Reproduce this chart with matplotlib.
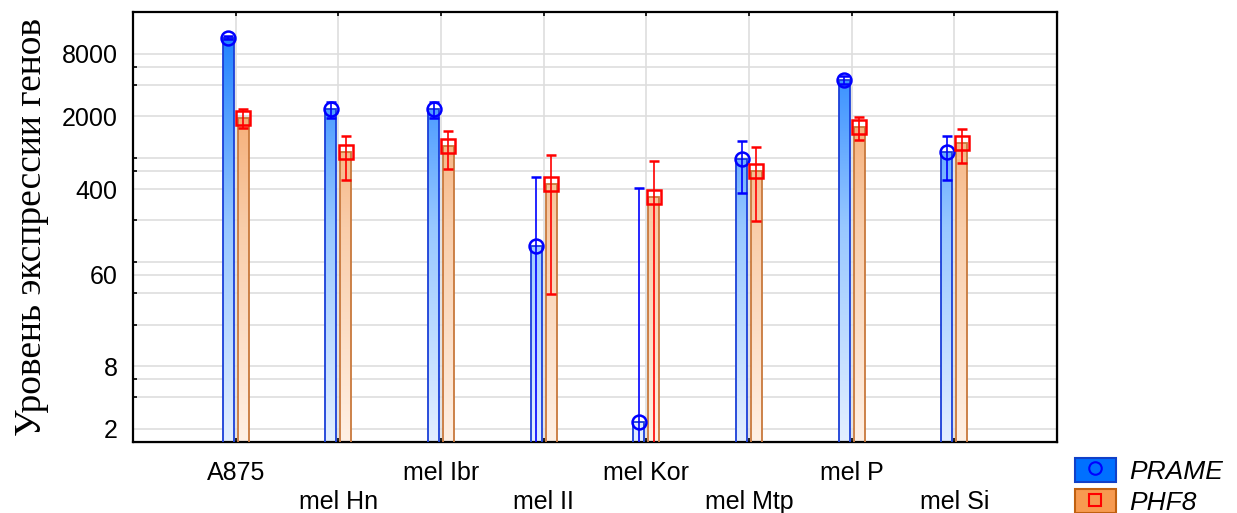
import numpy as np
import matplotlib
matplotlib.use("Agg")
import matplotlib.pyplot as plt
from matplotlib.colors import LinearSegmentedColormap
from matplotlib.patches import Patch
from matplotlib.lines import Line2D
from matplotlib.ticker import FixedLocator, FixedFormatter, NullFormatter

# --- données ---
lignees = ["A875", "mel Hn", "mel Ibr", "mel II", "mel Kor", "mel Mtp", "mel P", "mel Si"]
prame = [11400, 2330, 2330, 114, 2.3, 771, 4510, 900]
prame_err = [400, 400, 400, 407, 407, 400, 400, 405]
phf8 = [1950, 900, 1035, 446, 337, 604, 1565, 1120]
phf8_err = [390, 409, 408, 407, 406, 405, 390, 410]

ticks_maj = [2, 8, 60, 400, 2000, 8000]
ticks_min = [4, 6, 20, 40, 80, 200, 600, 800, 4000, 6000]

plt.rcParams['font.family'] = ['Liberation Sans', 'DejaVu Sans']

fig = plt.figure(figsize=(12.37, 5.13), dpi=100)
ax = fig.add_axes([133/1237, 1 - 441.7/513, (1057-133)/1237, (441.7-12.3)/513])
ax.set_yscale('log', nonpositive='clip')

x = np.arange(len(lignees))
dx = 0.073
w = 0.105

cm_bleu = LinearSegmentedColormap.from_list("bleu", ["#e3efff", "#98c8ff", "#127aff"])
cm_orange = LinearSegmentedColormap.from_list("orange", ["#fff0e4", "#f9cdaa", "#f3944c"])
grad = np.linspace(0, 1, 256).reshape(-1, 1)


def barres_degrade(xs, vals, cmap, edge):
    bars = ax.bar(xs, vals, width=w, facecolor='none', edgecolor=edge, linewidth=1.3, zorder=3)
    for r in bars:
        im = ax.imshow(grad, cmap=cmap, extent=(0, 1, 0, 1), transform=ax.transAxes,
                       aspect='auto', origin='lower', zorder=2, interpolation='bilinear')
        im.set_clip_path(r)
    return bars


barres_degrade(x - dx, prame, cm_bleu, "#1a3fd8")
barres_degrade(x + dx, phf8, cm_orange, "#c8783c")

ax.errorbar(x - dx, prame, yerr=prame_err, fmt='o', ms=10, mfc='none', mec='#0000ff', mew=1.8,
            ecolor='#0000ff', elinewidth=1.2, capsize=3.8, capthick=1.7, zorder=5)
ax.errorbar(x + dx, phf8, yerr=phf8_err, fmt='s', ms=9.5, mfc='none', mec='#ff0000', mew=1.8,
            ecolor='#ff0000', elinewidth=1.2, capsize=3.8, capthick=1.7, zorder=5)

ax.set_xlim(-1, 8)
ax.set_ylim(1.5, 20000)

# axe y logarithmique avec graduations irrégulières
ax.yaxis.set_major_locator(FixedLocator(ticks_maj))
ax.yaxis.set_minor_locator(FixedLocator(ticks_min))
ax.yaxis.set_major_formatter(FixedFormatter([str(t) for t in ticks_maj]))
ax.yaxis.set_minor_formatter(NullFormatter())
ax.tick_params(axis='y', which='major', length=0, labelsize=18, pad=11)
ax.tick_params(axis='y', which='minor', direction='in', length=3, width=1.2, color='black')

ax.set_xticks(x)
ax.set_xticklabels([n if i % 2 == 0 else "\n" + n for i, n in enumerate(lignees)], fontsize=18,
                   linespacing=1.25)
ax.tick_params(axis='x', direction='in', length=3, width=1.2, top=True, pad=14)

ax.grid(True, which='both', axis='y', color='#dedede', linewidth=1.2, zorder=0)
ax.grid(True, which='major', axis='x', color='#dedede', linewidth=1.2, zorder=0)
ax.set_axisbelow(True)
for s in ax.spines.values():
    s.set_linewidth(1.6)

# graduations du côté droit
ax2 = ax.twinx()
ax2.set_ylim(0, 1)
ax2.set_yticks(np.arange(1, 8) / 8)
ax2.tick_params(axis='y', direction='in', length=4, width=1.2, labelright=False)
ax2.set_zorder(ax.get_zorder() - 1)
ax2.patch.set_visible(False)

ax.set_ylabel("Уровень экспрессии генов", fontsize=27, family=['Liberation Serif'], labelpad=9)

poignees = [
    (Patch(facecolor='#0070ff', edgecolor='#1040c8', linewidth=1.5),
     Line2D([], [], marker='o', ls='none', ms=9, mfc='none', mec='#0000ff', mew=1.5)),
    (Patch(facecolor='#f79a50', edgecolor='#c06010', linewidth=1.5),
     Line2D([], [], marker='s', ls='none', ms=8.5, mfc='none', mec='#ff0000', mew=1.5)),
]
fig.legend(poignees, ["PRAME", "PHF8"], loc='upper left', bbox_to_anchor=(1075/1237, 1 - 458/513),
           frameon=False, borderpad=0, borderaxespad=0, handlelength=1.55, handleheight=1.0,
           handletextpad=0.5, labelspacing=0.2, prop={'size': 19, 'style': 'italic'})

fig.savefig("out.png", dpi=100)
